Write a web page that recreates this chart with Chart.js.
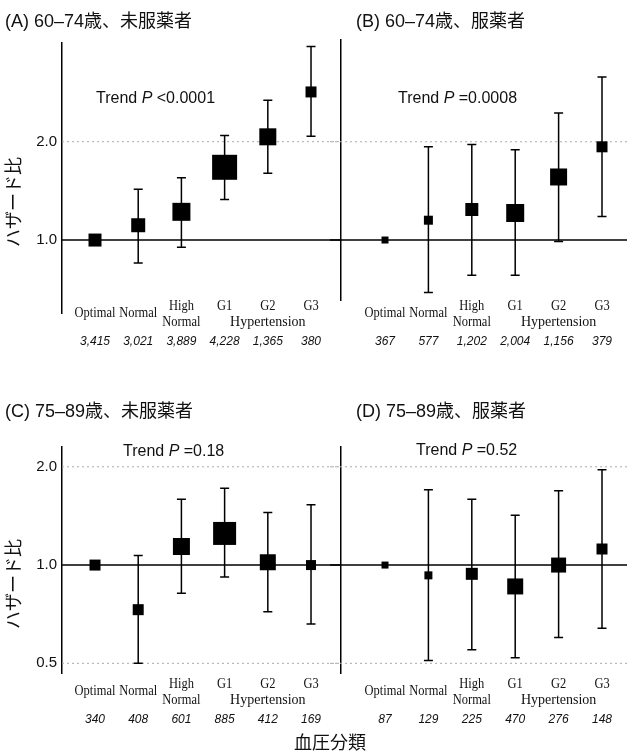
<!DOCTYPE html>
<html>
<head>
<meta charset="utf-8">
<script src="https://cdn.jsdelivr.net/npm/chart.js@4"></script>
<style>
  body { margin: 0; background: #fff; }
  #wrap { position: relative; width: 636px; height: 755px; font-family: "Liberation Sans", "Noto Sans CJK JP", sans-serif; color: #111; }
  canvas { position: absolute; left: 0; top: 0; }
  .t { position: absolute; white-space: nowrap; line-height: 20px; }
  .title { font-size: 18px; }
  .trend { font-size: 16px; }
  .axt { font-size: 18px; width: 120px; text-align: center; }
  .rot { transform: rotate(-90deg); }
</style>
</head>
<body>
<div id="wrap">
  <canvas id="cA" width="636" height="755"></canvas>
  <canvas id="cB" width="636" height="755"></canvas>
  <canvas id="cC" width="636" height="755"></canvas>
  <canvas id="cD" width="636" height="755"></canvas>

  <div class="t title" style="left:5px;top:11px">(A) 60–74歳、未服薬者</div>
  <div class="t title" style="left:356px;top:11px">(B) 60–74歳、服薬者</div>
  <div class="t title" style="left:5px;top:401px">(C) 75–89歳、未服薬者</div>
  <div class="t title" style="left:356px;top:401px">(D) 75–89歳、服薬者</div>

  <div class="t trend" style="left:96px;top:88px">Trend <i>P</i> &lt;0.0001</div>
  <div class="t trend" style="left:398px;top:88px">Trend <i>P</i> =0.0008</div>
  <div class="t trend" style="left:123px;top:441px">Trend <i>P</i> =0.18</div>
  <div class="t trend" style="left:416px;top:440px">Trend <i>P</i> =0.52</div>

  <div class="t axt rot" style="left:-46px;top:192px">ハザード比</div>
  <div class="t axt rot" style="left:-46px;top:574px">ハザード比</div>
  <div class="t axt" style="left:270px;top:733px">血圧分類</div>
</div>
<script>
const categories = ['Optimal', 'Normal', 'High Normal', 'G1', 'G2', 'G3'];
const hypertensionGroup = ['G1', 'G2', 'G3'];
const groupLabel = 'Hypertension';

const ticksTop = [1.0, 2.0];
const ticksBottom = [0.5, 1.0, 2.0];

// (A) 60-74歳 未服薬者
const hrA = [1.00, 1.11, 1.22, 1.67, 2.07, 2.84];
const loA = [null, 0.85, 0.95, 1.33, 1.60, 2.08];
const hiA = [null, 1.43, 1.55, 2.09, 2.68, 3.91];
const nA = ['3,415', '3,021', '3,889', '4,228', '1,365', '380'];
const boxA = [13, 14, 18, 25, 17, 11];

// (B) 60-74歳 服薬者
const hrB = [1.00, 1.15, 1.24, 1.21, 1.56, 1.93];
const loB = [null, 0.69, 0.78, 0.78, 0.99, 1.18];
const hiB = [null, 1.93, 1.96, 1.89, 2.45, 3.16];
const nB = ['367', '577', '1,202', '2,004', '1,156', '379'];
const boxB = [7, 9, 13, 18, 17, 11];

// (C) 75-89歳 未服薬者
const hrC = [1.00, 0.73, 1.14, 1.25, 1.02, 1.00];
const loC = [null, 0.50, 0.82, 0.92, 0.72, 0.66];
const hiC = [null, 1.07, 1.59, 1.72, 1.45, 1.53];
const nC = ['340', '408', '601', '885', '412', '169'];
const boxC = [11, 11, 17, 23, 16, 10];

// (D) 75-89歳 服薬者
const hrD = [1.00, 0.93, 0.94, 0.86, 1.00, 1.12];
const loD = [null, 0.51, 0.55, 0.52, 0.60, 0.64];
const hiD = [null, 1.70, 1.59, 1.42, 1.69, 1.96];
const nD = ['87', '129', '225', '470', '276', '148'];
const boxD = [7, 8, 12, 16, 15, 11];

const Y_AXIS_W = 50;

const panels = [
  { id: 'cA', hr: hrA, lo: loA, hi: hiA, n: nA, box: boxA, ticks: ticksTop, showTicks: true,
    area: { left: 62, top: 43, right: 341, bottom: 313 }, yMin: 0.598, yMax: 4.01,
    xMin: 0.236, xMax: 6.694, lineLeft: 62, labelTop: 306 },
  { id: 'cB', hr: hrB, lo: loB, hi: hiB, n: nB, box: boxB, ticks: ticksTop, showTicks: false,
    area: { left: 341, top: 40, right: 627, bottom: 300 }, yMin: 0.655, yMax: 4.10,
    xMin: -0.014, xMax: 6.576, lineLeft: 330, labelTop: 306 },
  { id: 'cC', hr: hrC, lo: loC, hi: hiC, n: nC, box: boxC, ticks: ticksBottom, showTicks: true,
    area: { left: 62, top: 447, right: 341, bottom: 673 }, yMin: 0.467, yMax: 2.30,
    xMin: 0.236, xMax: 6.694, lineLeft: 62, labelTop: 684 },
  { id: 'cD', hr: hrD, lo: loD, hi: hiD, n: nD, box: boxD, ticks: ticksBottom, showTicks: false,
    area: { left: 341, top: 447, right: 627, bottom: 673 }, yMin: 0.467, yMax: 2.30,
    xMin: -0.014, xMax: 6.576, lineLeft: 330, labelTop: 684 }
];

// narrow serif labels like the original figure
function squeezed(ctx, text, x, y) {
  ctx.fillText(text, x, y, ctx.measureText(text).width * 0.86);
}

function forestPlugin(p) {
  return {
    id: 'forest_' + p.id,
    beforeDatasetsDraw(chart) {
      const { ctx, chartArea } = chart;
      const xs = chart.scales.x, ys = chart.scales.y;
      ctx.save();
      // reference lines
      p.ticks.forEach(v => {
        const y = ys.getPixelForValue(v);
        ctx.beginPath();
        if (v === 1) {
          ctx.setLineDash([]);
          ctx.strokeStyle = '#000';
          ctx.lineWidth = 1.5;
        } else {
          ctx.setLineDash([2, 3]);
          ctx.strokeStyle = '#aaa';
          ctx.lineWidth = 1;
        }
        ctx.moveTo(p.lineLeft, y);
        ctx.lineTo(chartArea.right, y);
        ctx.stroke();
      });
      // confidence intervals
      ctx.setLineDash([]);
      ctx.strokeStyle = '#000';
      ctx.lineWidth = 1.5;
      p.hr.forEach((v, i) => {
        if (p.lo[i] == null) return;
        const x = xs.getPixelForValue(i + 1);
        const y1 = ys.getPixelForValue(p.lo[i]);
        const y2 = ys.getPixelForValue(p.hi[i]);
        ctx.beginPath();
        ctx.moveTo(x, y1); ctx.lineTo(x, y2);
        ctx.moveTo(x - 4.5, y1); ctx.lineTo(x + 4.5, y1);
        ctx.moveTo(x - 4.5, y2); ctx.lineTo(x + 4.5, y2);
        ctx.stroke();
      });
      ctx.restore();
    },
    afterDraw(chart) {
      const { ctx } = chart;
      const xs = chart.scales.x;
      const top = p.labelTop;
      ctx.save();
      ctx.fillStyle = '#111';
      ctx.textAlign = 'center';
      ctx.textBaseline = 'middle';
      ctx.font = '14.5px "Liberation Serif"';
      const groupX = [];
      categories.forEach((c, i) => {
        const x = xs.getPixelForValue(i + 1);
        const lines = c.split(' ');
        const inGroup = hypertensionGroup.includes(c);
        if (inGroup) groupX.push(x);
        if (lines.length === 2) {
          squeezed(ctx, lines[0], x, top);
          squeezed(ctx, lines[1], x, top + 16);
        } else {
          squeezed(ctx, c, x, inGroup ? top : top + 7.5);
        }
      });
      const gx = groupX.reduce((a, b) => a + b, 0) / groupX.length;
      ctx.font = '14px "Liberation Serif"';
      ctx.fillText(groupLabel, gx, top + 16);
      ctx.font = 'italic 12px "Liberation Sans"';
      p.n.forEach((t, i) => {
        ctx.fillText(t, xs.getPixelForValue(i + 1), top + 36);
      });
      ctx.restore();
    }
  };
}

panels.forEach(p => {
  new Chart(document.getElementById(p.id), {
    type: 'scatter',
    data: {
      datasets: [{
        data: p.hr.map((v, i) => ({ x: i + 1, y: v })),
        pointStyle: 'rect',
        pointRadius: p.box.map(s => s / Math.SQRT2),
        pointHoverRadius: p.box.map(s => s / Math.SQRT2),
        pointBackgroundColor: '#000',
        pointBorderWidth: 0,
        pointHoverBorderWidth: 0
      }]
    },
    options: {
      responsive: false,
      animation: false,
      events: [],
      layout: {
        autoPadding: false,
        padding: {
          left: p.area.left - Y_AXIS_W,
          top: p.area.top,
          right: 636 - p.area.right,
          bottom: 755 - p.area.bottom
        }
      },
      scales: {
        x: { type: 'linear', min: p.xMin, max: p.xMax, display: false },
        y: {
          type: 'logarithmic',
          position: 'left',
          min: p.yMin,
          max: p.yMax,
          afterFit(scale) { scale.width = Y_AXIS_W; },
          afterBuildTicks(scale) { scale.ticks = p.ticks.map(v => ({ value: v })); },
          ticks: {
            display: p.showTicks,
            padding: 5,
            color: '#111',
            font: { family: 'Liberation Sans', size: 15 },
            callback: v => Number(v).toFixed(1)
          },
          grid: { display: false, drawTicks: false },
          border: { display: true, color: '#000', width: 1.5 }
        }
      },
      plugins: {
        legend: { display: false },
        tooltip: { enabled: false }
      }
    },
    plugins: [forestPlugin(p)]
  });
});
</script>
</body>
</html>
